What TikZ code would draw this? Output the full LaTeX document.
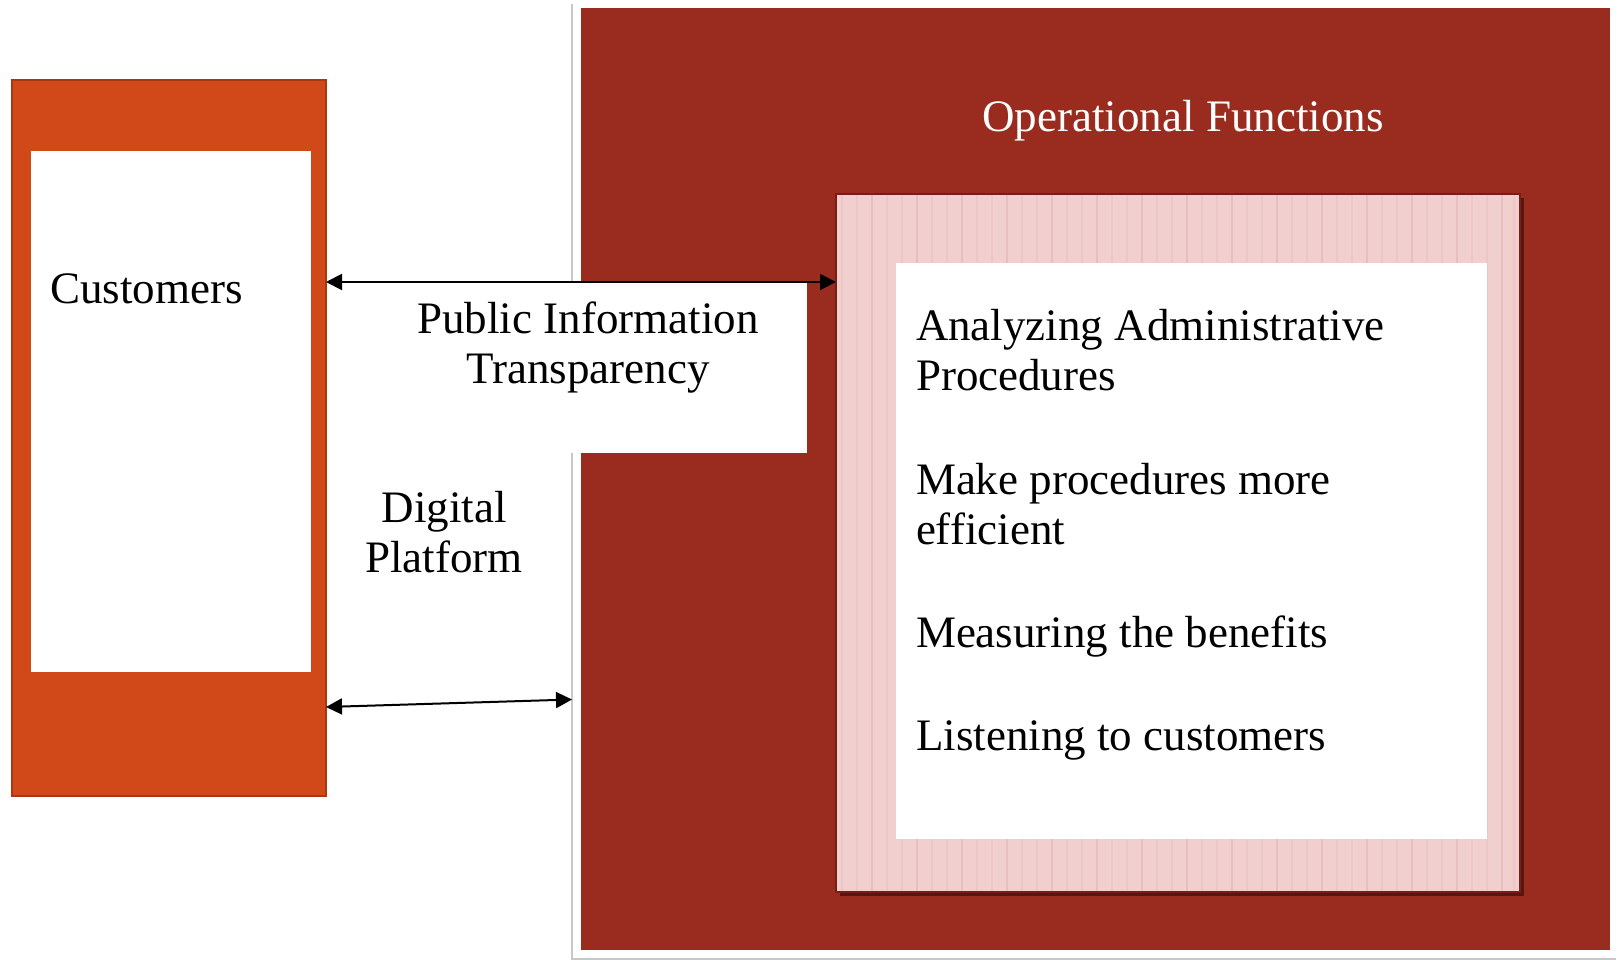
\documentclass[tikz,border=0pt]{standalone}
\usepackage{fontspec}
\setmainfont{Liberation Serif}
\usetikzlibrary{arrows.meta,shadows}
\definecolor{orangebox}{RGB}{209,73,24}
\definecolor{orangeedge}{RGB}{170,55,20}
\definecolor{darkred}{RGB}{154,44,31}
\definecolor{pinkbox}{RGB}{242,207,207}
\definecolor{pinkstripe}{RGB}{230,190,190}
\definecolor{pinkedge}{RGB}{120,30,22}
\definecolor{frameshadow}{RGB}{200,200,200}
\tikzset{
  box/.style={anchor=north west, inner sep=0pt, outer sep=0pt},
  txt/.style={font=\fontsize{45}{50}\selectfont, inner sep=0pt, outer sep=0pt},
  conn/.style={line width=2pt, {Triangle[length=16pt,width=16pt]}-{Triangle[length=16pt,width=16pt]}},
}
\begin{document}
\begin{tikzpicture}[x=1pt,y=-1pt]
\useasboundingbox (0,0) rectangle (1618,960);
% outer white frame with shadow
\node[box, fill=white, minimum width=1044, minimum height=959] (frame) at (572,0) {};
\draw[frameshadow, line width=2pt] (frame.north west) ++(0,4) -- (frame.south west) -- (frame.south east);
% dark red panel
\node[box, fill=darkred, minimum width=1029, minimum height=942] (panel) at (581,8) {};
% white label box
\node[box, fill=white, minimum width=239, minimum height=171] (pit) at (568,282) {};
% customers box
\node[box, fill=orangebox, draw=orangeedge, line width=1.5pt, minimum width=314, minimum height=716] (cust) at (12,80) {};
\node[box, fill=white, minimum width=280, minimum height=521] (custin) at (31,151) {};
% pink box
\node[box, fill=pinkbox, draw=pinkedge, line width=1.5pt, minimum width=684, minimum height=698,
      drop shadow={shadow xshift=4pt, shadow yshift=-4pt, opacity=0.45, fill=black}] (pink) at (836,194) {};
\foreach \x [count=\i] in {842,857,872,887,902,917,932,947,962,977,992,1007,1022,1037,1052,1067,1082,1097,1112,1127,1142,1157,1172,1187,1202,1217,1232,1247,1262,1277,1292,1307,1322,1337,1352,1367,1382,1397,1412,1427,1442,1457,1472,1487,1502,1514}{
  \pgfmathsetmacro{\op}{mod(\i,3)==0 ? 0.9 : 0.45}
  \draw[pinkstripe, line width=2pt, opacity=\op] (\x,195) -- (\x,891);
}
\node[box, fill=white, minimum width=591, minimum height=576] (pinkin) at (896,263) {};
% texts
\node[txt, anchor=base west] (custlbl) at (50,304) {Customers};
\node[txt, anchor=base, text=white] (oplbl) at (1183,132) {Operational Functions};
\node[txt, anchor=base] (pitl1) at (588,333) {Public Information};
\node[txt, anchor=base] (pitl2) at (588,383) {Transparency};
\node[txt, anchor=base] (dp1) at (444,522) {Digital};
\node[txt, anchor=base] (dp2) at (444,572) {Platform};
\node[txt, anchor=base west] (i1a) at (916,340) {Analyzing Administrative};
\node[txt, anchor=base west] (i1b) at (916,390) {Procedures};
\node[txt, anchor=base west] (i2a) at (916,494) {Make procedures more};
\node[txt, anchor=base west] (i2b) at (916,544) {efficient};
\node[txt, anchor=base west] (i3) at (916,647) {Measuring the benefits};
\node[txt, anchor=base west] (i4) at (916,750) {Listening to customers};
% connectors
\draw[conn] (pit.north -| cust.east) -- (pit.north -| pink.west);
\draw[conn] ([yshift=-269pt]cust.east) -- ([yshift=-220pt]frame.west);
\end{tikzpicture}
\end{document}
